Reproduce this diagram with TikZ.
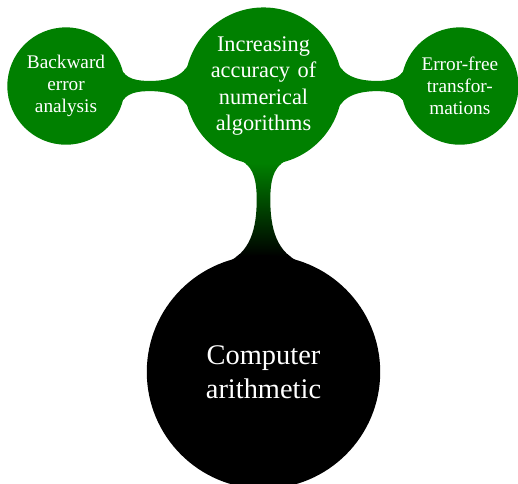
\documentclass[tikz,border=0pt]{standalone}
\usepackage{fontspec}
\setmainfont{Liberation Serif}
\usetikzlibrary{mindmap,backgrounds}
\definecolor{mmgreen}{rgb}{0,0.5,0}
\begin{document}
\begin{tikzpicture}[mindmap,
  bubble/.style={concept, circle, inner sep=0pt, text=white, align=center},
  rootbubble/.style={bubble, concept color=black, minimum size=4cm, text width=2.4cm, font=\fontsize{14}{17}\selectfont},
  midbubble/.style={bubble, concept color=mmgreen, minimum size=2.68cm, text width=1.9cm, font=\fontsize{11}{13}\selectfont},
  leafbubble/.style={bubble, concept color=mmgreen, minimum size=1.99cm, text width=1.5cm, font=\fontsize{9.5}{10.8}\selectfont}]
\useasboundingbox (-4.563,-1.922) rectangle (4.407,6.442);
\node[rootbubble] (root) at (0,0) {Computer\\arithmetic};
\node[midbubble] (acc) at (0,4.952) {Increasing\\accuracy of\\numerical\\algorithms};
\node[leafbubble] (bwd) at (-3.42,4.952) {Backward\\error\\analysis};
\node[leafbubble] (eft) at (3.40,4.952) {Error-free\\transfor-\\mations};
\begin{pgfonlayer}{background}
\path (root) to[circle connection bar switch color=from (black) to (mmgreen)] (acc);
\path (acc) to[circle connection bar switch color=from (mmgreen) to (mmgreen)] (bwd);
\path (acc) to[circle connection bar switch color=from (mmgreen) to (mmgreen)] (eft);
\end{pgfonlayer}
\end{tikzpicture}
\end{document}
